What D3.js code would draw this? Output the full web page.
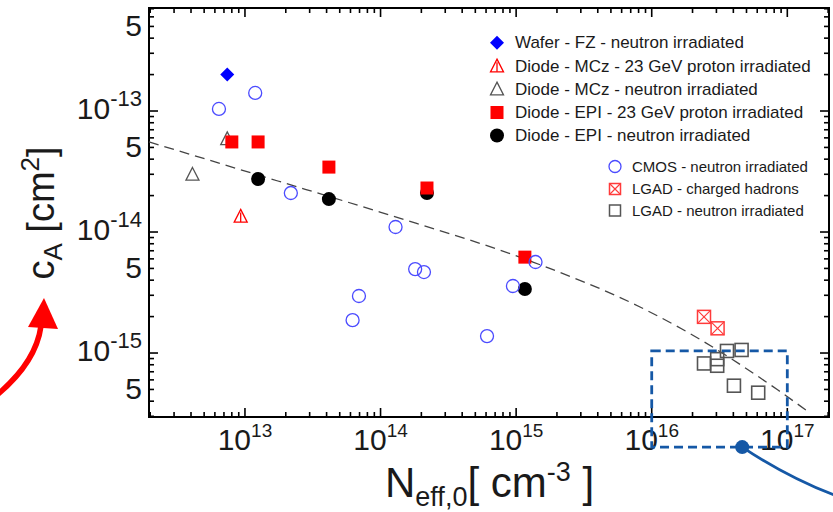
<!DOCTYPE html>
<html><head><meta charset="utf-8">
<script src="https://cdn.jsdelivr.net/npm/d3@7/dist/d3.min.js"></script>
<style>
html,body{margin:0;padding:0;background:#fff;}
svg{display:block;font-family:"Liberation Sans",Arial,sans-serif;}
</style></head>
<body>
<svg id="chart" width="833" height="512"></svg>
<script>
// ---------- data (x: N_eff,0 [cm^-3], y: c_A [cm^2]) ----------
const waferFZ_x = [7.4e12];
const waferFZ_y = [2.0e-13];

const mczProton_x = [9.3e12];
const mczProton_y = [1.35e-14];

const mczNeutron_x = [4.1e12, 7.4e12];
const mczNeutron_y = [3.0e-14, 5.9e-14];

const epiProton_x = [8.0e12, 1.25e13, 4.16e13, 2.2e14, 1.16e15];
const epiProton_y = [5.55e-14, 5.55e-14, 3.44e-14, 2.31e-14, 6.2e-15];

const epiNeutron_x = [1.25e13, 4.16e13, 2.2e14, 1.16e15];
const epiNeutron_y = [2.74e-14, 1.87e-14, 2.1e-14, 3.38e-15];

const cmos_x = [6.43e12, 1.19e13, 2.18e13, 1.29e14, 1.8e14, 2.09e14, 6.93e13, 6.22e13, 6.1e14, 9.47e14, 1.39e15];
const cmos_y = [1.04e-13, 1.41e-13, 2.1e-14, 1.1e-14, 4.94e-15, 4.67e-15, 2.96e-15, 1.87e-15, 1.38e-15, 3.58e-15, 5.65e-15];

const lgadCharged_x = [2.43e16, 3.06e16];
const lgadCharged_y = [1.99e-15, 1.6e-15];

const lgadNeutron_x = [2.43e16, 3.04e16, 3.04e16, 3.59e16, 4.6e16, 4.04e16, 6.1e16];
const lgadNeutron_y = [8.2e-16, 8.9e-16, 7.85e-16, 1.04e-15, 1.06e-15, 5.37e-16, 4.7e-16];

// dashed fit curve
const fit_x = [1.96e12, 1.75e13, 9.9e13, 1.33e15, 8.2e15, 1.67e16, 8.53e16, 1.47e17];
const fit_y = [5.55e-14, 2.64e-14, 1.46e-14, 5.65e-15, 2.40e-15, 1.58e-15, 4.94e-16, 3.19e-16];

// axis ticks
const xMajorExp = [13, 14, 15, 16, 17];
const yLabelTicks = [5e-13, 1e-13, 5e-14, 1e-14, 5e-15, 1e-15, 5e-16];

// legend labels
const legend1 = ["Wafer - FZ - neutron irradiated",
                 "Diode - MCz - 23 GeV proton irradiated",
                 "Diode - MCz - neutron irradiated",
                 "Diode - EPI - 23 GeV proton irradiated",
                 "Diode - EPI - neutron irradiated"];
const legend2 = ["CMOS - neutron irradiated",
                 "LGAD - charged hadrons",
                 "LGAD - neutron irradiated"];

// annotation box (data coordinates)
const annoBoxX = [1e16, 1e17];
const annoBoxY = [1.67e-16, 1.04e-15];
const annoDotX = 4.65e16;

// ---------- chart ----------
const svg = d3.select("#chart");
const L = 149, R = 829, T = 8, B = 417;
const x = d3.scaleLog().domain([1.96e12, 2.03e17]).range([L, R]);
const y = d3.scaleLog().domain([2.96e-16, 7.1e-13]).range([B, T]);

const C = {
  blue: "#0000ff", red: "#ff0000", gray: "#555555", cmos: "#4b4bff",
  lgadRed: "#ff3b3b", text: "#1a1a1a", anno: "#1558a6"
};

// ticks
const g = svg.append("g");
const xTicks = [], yTicks = [];
for (let e = 12; e <= 17; e++) for (let m = 1; m <= 9; m++) {
  const v = m * Math.pow(10, e);
  if (v >= x.domain()[0] && v <= x.domain()[1]) xTicks.push({v, major: m === 1});
}
for (let e = -16; e <= -13; e++) for (let m = 1; m <= 9; m++) {
  const v = m * Math.pow(10, e);
  if (v >= y.domain()[0] && v <= y.domain()[1]) yTicks.push({v, major: m === 1, mid: m === 5});
}
const tk = g.append("g").attr("stroke", "#000").attr("stroke-width", 1.6);
xTicks.forEach(t => {
  const px = x(t.v), len = t.major ? 9 : 5;
  tk.append("line").attr("x1", px).attr("x2", px).attr("y1", B).attr("y2", B - len);
  tk.append("line").attr("x1", px).attr("x2", px).attr("y1", T).attr("y2", T + len);
});
yTicks.forEach(t => {
  const py = y(t.v), len = t.major ? 9 : 5;
  tk.append("line").attr("y1", py).attr("y2", py).attr("x1", L).attr("x2", L + len);
  tk.append("line").attr("y1", py).attr("y2", py).attr("x1", R).attr("x2", R - len);
});
g.append("rect").attr("x", L).attr("y", T).attr("width", R - L).attr("height", B - T)
  .attr("fill", "none").attr("stroke", "#000").attr("stroke-width", 2);

// x tick labels
xMajorExp.forEach(e => {
  const t = g.append("text").attr("x", x(Math.pow(10, e))).attr("y", 450)
    .attr("text-anchor", "middle").attr("font-size", 30).attr("fill", C.text);
  t.append("tspan").text("10");
  t.append("tspan").attr("dy", -13).attr("font-size", 19).text(String(e));
});
// y tick labels
yLabelTicks.forEach(v => {
  const exp = Math.round(Math.log10(v));
  const mant = v / Math.pow(10, Math.floor(Math.log10(v) + 1e-9));
  const t = g.append("text").attr("x", 142).attr("text-anchor", "end")
    .attr("font-size", 30).attr("fill", C.text);
  if (Math.round(mant) === 1) {
    t.attr("y", y(v) + 8);
    t.append("tspan").text("10");
    t.append("tspan").attr("dy", -13).attr("font-size", 22).text("-" + Math.abs(exp));
  } else {
    t.attr("y", y(v) + 10).text(String(Math.round(mant)));
  }
});

// axis titles
const xt = svg.append("text").attr("x", 385).attr("y", 497).attr("font-size", 42).attr("fill", C.text);
xt.append("tspan").text("N");
xt.append("tspan").attr("dy", 9).attr("font-size", 27).text("eff,0");
xt.append("tspan").attr("dy", -9).text("[ cm");
xt.append("tspan").attr("dy", -16).attr("font-size", 27).text("-3");
xt.append("tspan").attr("dy", 16).text(" ]");

const yt = svg.append("text").attr("transform", "translate(54,213) rotate(-90)")
  .attr("text-anchor", "middle").attr("font-size", 38).attr("fill", C.text);
yt.append("tspan").text("c");
yt.append("tspan").attr("dy", 8).attr("font-size", 26).text("A");
yt.append("tspan").attr("dy", -8).text(" [cm");
yt.append("tspan").attr("dy", -15).attr("font-size", 26).text("2");
yt.append("tspan").attr("dy", 15).text("]");

// fit curve
const fitPts = fit_x.map((v, i) => [x(v), y(fit_y[i])]);
svg.append("path").attr("d", d3.line().curve(d3.curveMonotoneX)(fitPts))
  .attr("fill", "none").attr("stroke", "#444").attr("stroke-width", 1.3)
  .attr("stroke-dasharray", "10,6");

// marker helpers
function tri(gg, cx, cy, s, col, bar) {
  const h = s * 0.9;
  gg.append("path").attr("d", `M${cx},${cy - h / 2 - 1}L${cx + s / 2},${cy + h / 2}L${cx - s / 2},${cy + h / 2}Z`)
    .attr("fill", "none").attr("stroke", col).attr("stroke-width", 1.3);
  if (bar) gg.append("line").attr("x1", cx).attr("x2", cx).attr("y1", cy - h / 2 + 2).attr("y2", cy + h / 2)
    .attr("stroke", col).attr("stroke-width", 1.3);
}
function sq(gg, cx, cy, s, fill, stroke, sw) {
  gg.append("rect").attr("x", cx - s / 2).attr("y", cy - s / 2).attr("width", s).attr("height", s)
    .attr("fill", fill).attr("stroke", stroke).attr("stroke-width", sw);
}
function xsq(gg, cx, cy, s, col) {
  sq(gg, cx, cy, s, "none", col, 1.5);
  gg.append("path").attr("d", `M${cx - s / 2},${cy - s / 2}L${cx + s / 2},${cy + s / 2}M${cx + s / 2},${cy - s / 2}L${cx - s / 2},${cy + s / 2}`)
    .attr("stroke", col).attr("stroke-width", 1.2);
}
function diamond(gg, cx, cy, s, col) {
  gg.append("path").attr("d", `M${cx},${cy - s / 2}L${cx + s / 2},${cy}L${cx},${cy + s / 2}L${cx - s / 2},${cy}Z`)
    .attr("fill", col);
}
function circ(gg, cx, cy, r, fill, stroke, sw) {
  gg.append("circle").attr("cx", cx).attr("cy", cy).attr("r", r)
    .attr("fill", fill).attr("stroke", stroke).attr("stroke-width", sw);
}

const m = svg.append("g");
mczNeutron_x.forEach((v, i) => tri(m, x(v), y(mczNeutron_y[i]), 13, C.gray, false));
epiNeutron_x.forEach((v, i) => circ(m, x(v), y(epiNeutron_y[i]), 7, "#000", "none", 0));
epiProton_x.forEach((v, i) => sq(m, x(v), y(epiProton_y[i]), 13, C.red, "none", 0));
cmos_x.forEach((v, i) => circ(m, x(v), y(cmos_y[i]), 6.5, "none", C.cmos, 1.3));
mczProton_x.forEach((v, i) => tri(m, x(v), y(mczProton_y[i]), 13, C.red, true));
waferFZ_x.forEach((v, i) => diamond(m, x(v), y(waferFZ_y[i]), 14, C.blue));
lgadCharged_x.forEach((v, i) => xsq(m, x(v), y(lgadCharged_y[i]), 13, C.lgadRed));
lgadNeutron_x.forEach((v, i) => sq(m, x(v), y(lgadNeutron_y[i]), 13, "none", C.gray, 1.6));

// legend 1
const lg1 = svg.append("g");
const l1y = [42.7, 66, 89, 112.5, 135.5];
legend1.forEach((s, i) => {
  const cy = l1y[i], cx = 497;
  if (i === 0) diamond(lg1, cx, cy, 14, C.blue);
  if (i === 1) tri(lg1, cx, cy, 13, C.red, true);
  if (i === 2) tri(lg1, cx, cy, 13, C.gray, false);
  if (i === 3) sq(lg1, cx, cy, 13, C.red, "none", 0);
  if (i === 4) circ(lg1, cx, cy, 7, "#000", "none", 0);
  lg1.append("text").attr("x", 515).attr("y", cy + 5.5).attr("font-size", 17).attr("fill", C.text).text(s);
});
// legend 2
const lg2 = svg.append("g");
const l2y = [166.5, 189, 210.5];
legend2.forEach((s, i) => {
  const cy = l2y[i], cx = 615;
  if (i === 0) circ(lg2, cx, cy, 6, "none", C.cmos, 1.3);
  if (i === 1) xsq(lg2, cx, cy, 11, C.lgadRed);
  if (i === 2) sq(lg2, cx, cy, 11, "none", C.gray, 1.5);
  lg2.append("text").attr("x", 632).attr("y", cy + 5).attr("font-size", 15).attr("fill", C.text).text(s);
});

// annotations
const an = svg.append("g");
an.append("rect")
  .attr("x", x(annoBoxX[0])).attr("y", y(annoBoxY[1]))
  .attr("width", x(annoBoxX[1]) - x(annoBoxX[0])).attr("height", y(annoBoxY[0]) - y(annoBoxY[1]))
  .attr("fill", "none").attr("stroke", C.anno).attr("stroke-width", 2.8).attr("stroke-dasharray", "9,5");
const dx = x(annoDotX), dyy = y(annoBoxY[0]);
an.append("path").attr("d", `M${dx},${dyy} Q${dx + 45},${dyy + 30} ${dx + 92},${dyy + 48}`)
  .attr("fill", "none").attr("stroke", C.anno).attr("stroke-width", 2.8);
an.append("circle").attr("cx", dx).attr("cy", dyy).attr("r", 7).attr("fill", C.anno);

// red arrow
an.append("path").attr("d", "M-2,394 Q36,362 41,326").attr("fill", "none")
  .attr("stroke", "#ff0000").attr("stroke-width", 5.5);
an.append("path").attr("d", "M44,298 L58,329 L28,327 Z").attr("fill", "#ff0000");
</script>
</body></html>
